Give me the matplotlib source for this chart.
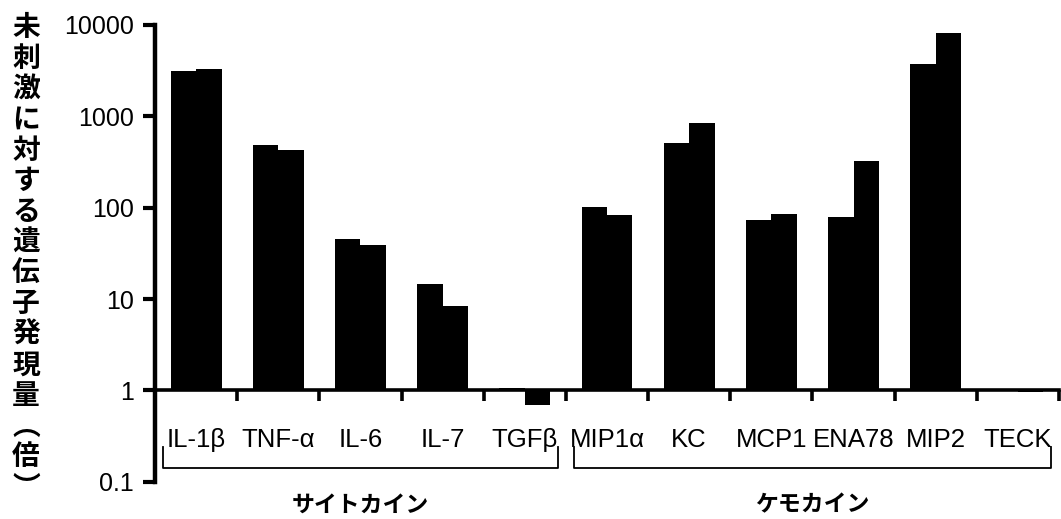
import numpy as np
import matplotlib.pyplot as plt
from matplotlib import transforms

plt.rcParams['font.family'] = ['Liberation Sans', 'Noto Sans CJK JP', 'DejaVu Sans']

# fold change vs. unstimulated, two conditions per gene
categories = ['IL-1β', 'TNF-α', 'IL-6', 'IL-7', 'TGFβ',
              'MIP1α', 'KC', 'MCP1', 'ENA78', 'MIP2', 'TECK']
series_a = [3120, 480, 45, 14.7, 1.05, 102, 516, 73, 80, 3720, 1.02]
series_b = [3260, 433, 38.7, 8.3, 0.70, 84, 855, 86, 322, 8190, 0.95]

y_ticks = [0.1, 1, 10, 100, 1000, 10000]
y_tick_labels = ['0.1', '1', '10', '100', '1000', '10000']

group_names = ['サイトカイン', 'ケモカイン']
group_spans = [(0, 5), (5, 11)]

ylabel = '未刺激に対する遺伝子発現量︵倍︶'

W, H = 1061, 519
fig = plt.figure(figsize=(W / 100, H / 100), dpi=100)
ax = fig.add_axes([155 / W, 1 - 481.7 / H, (1059 - 155) / W, (481.7 - 25) / H])

x = np.arange(len(categories)) + 0.5
w = 0.31
ax.bar(x - w / 2, np.array(series_a) - 1, w, bottom=1, color='black', linewidth=0)
ax.bar(x + w / 2, np.array(series_b) - 1, w, bottom=1, color='black', linewidth=0)

ax.set_yscale('log')
ax.set_ylim(0.1, 10000)
ax.set_xlim(0, len(categories))

for s in ['top', 'right']:
    ax.spines[s].set_visible(False)
ax.spines['left'].set_linewidth(3.2)
ax.spines['bottom'].set_linewidth(2.6)
ax.spines['bottom'].set_position(('data', 1))

ax.set_yticks(y_ticks)
ax.set_yticklabels(y_tick_labels)
ax.yaxis.set_minor_locator(plt.NullLocator())
ax.tick_params(axis='y', which='major', length=9, width=3, pad=6, labelsize=18)

# group boundaries get the tick marks, names sit under the bar pairs
ax.set_xticks(np.arange(1, len(categories) + 1))
ax.set_xticklabels([])
ax.tick_params(axis='x', which='major', length=8, width=2.6)
ax.set_xticks(x, minor=True)
ax.set_xticklabels(categories, minor=True)
ax.tick_params(axis='x', which='minor', length=0, pad=27, labelsize=18.5)

# brackets grouping cytokines / chemokines
trans = transforms.blended_transform_factory(ax.transData, fig.transFigure)
y_line = 1 - 468 / H
y_top = 1 - 447 / H
for (a, b), name in zip(group_spans, group_names):
    x0, x1 = a + 0.1, b - 0.1
    ax.plot([x0, x0, x1, x1], [y_top, y_line, y_line, y_top], color='black',
            linewidth=1.3, transform=trans, clip_on=False)
    ax.text((a + b) / 2, 1 - 505 / H, name, transform=trans, ha='center', va='center',
            fontsize=16.5, fontweight='bold', family=['Noto Sans CJK JP', 'DejaVu Sans'])

fig.text(26 / W, 1 - 258 / H, '\n'.join(ylabel), ha='center', va='center',
         fontsize=20, fontweight='bold', linespacing=1.12,
         family=['Noto Sans CJK JP', 'DejaVu Sans'])

fig.savefig('out.png', dpi=100)
